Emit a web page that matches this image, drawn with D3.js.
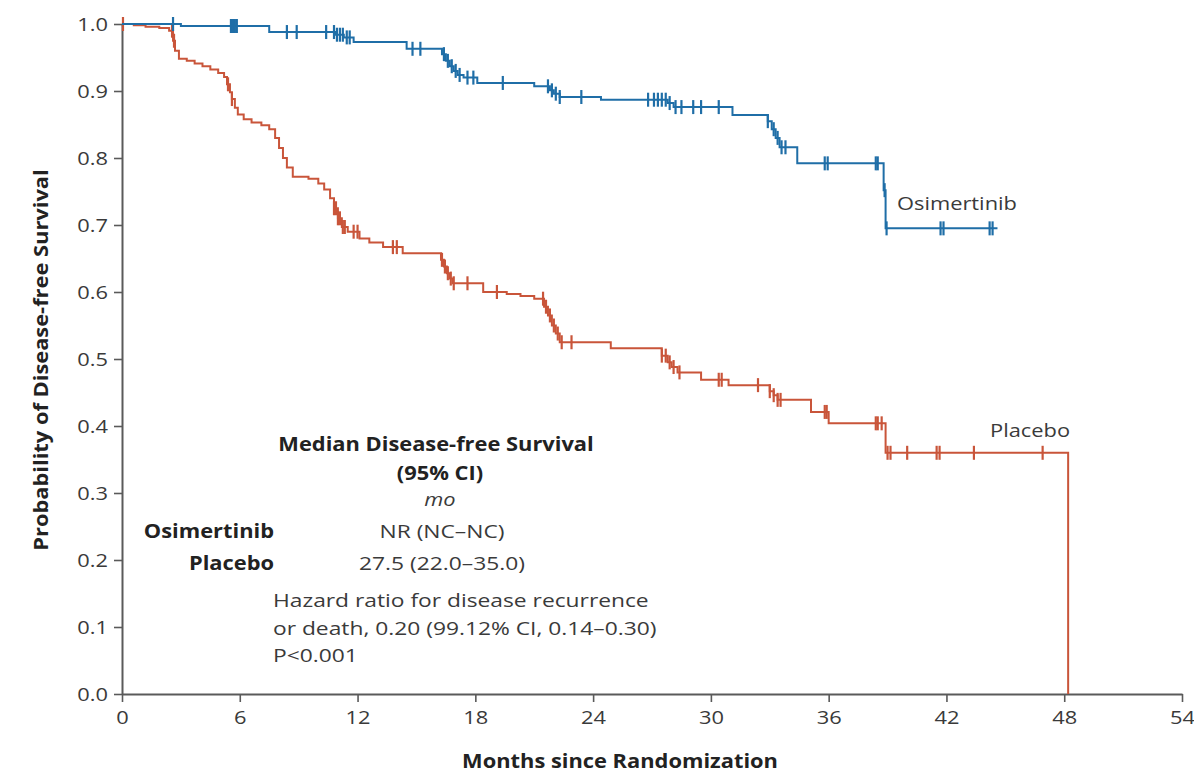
<!DOCTYPE html>
<html>
<head>
<meta charset="utf-8">
<script src="https://cdn.jsdelivr.net/npm/d3@7"></script>
<style>
  html, body { margin: 0; padding: 0; background: #fff; }
  svg { display: block; }
  text { font-family: "Open Sans", Lato, sans-serif; }
</style>
</head>
<body>
<svg id="chart" width="1194" height="773"></svg>
<script>
// ---------------- DATA ----------------
const xTicks = [0, 6, 12, 18, 24, 30, 36, 42, 48, 54];
const yTicks = [0.0, 0.1, 0.2, 0.3, 0.4, 0.5, 0.6, 0.7, 0.8, 0.9, 1.0];

// Osimertinib: event times (months) and survival after each event
const osiTimes = [3.0, 7.5, 10.9, 11.3, 11.8, 14.5, 16.3, 16.5, 16.7, 16.9, 17.1, 17.4, 18.1,
  21.0, 21.8, 22.0, 22.3, 24.4, 27.8, 28.1, 31.1, 32.9, 33.1, 33.3, 33.5, 34.4, 38.8, 38.9];
const osiSurv = [0.997, 0.988, 0.984, 0.980, 0.973, 0.963, 0.955, 0.945, 0.937, 0.930, 0.924, 0.920, 0.912,
  0.907, 0.901, 0.896, 0.891, 0.887, 0.882, 0.876, 0.864, 0.855, 0.843, 0.830, 0.816, 0.792, 0.752, 0.695];
const osiEnd = 44.6;
const osiCensor = [2.6, 5.55, 5.65, 5.75, 5.85, 8.4, 8.9, 10.4, 10.8, 10.95, 11.1, 11.25, 11.45, 11.6,
  14.8, 15.2, 16.4, 16.6, 16.8, 17.0, 17.2, 17.6, 17.9, 19.4, 21.7, 21.9, 22.1, 22.3, 23.4,
  26.8, 27.1, 27.3, 27.5, 27.7, 27.9, 28.2, 28.5, 29.1, 29.5, 30.4, 32.9, 33.2, 33.4, 33.6, 33.8,
  35.8, 35.95, 38.4, 38.5, 38.85, 38.95, 41.7, 41.85, 44.2, 44.35];

// Placebo
const plaTimes = [0.6, 1.2, 1.9, 2.4, 2.6, 2.7, 2.9, 3.3, 3.7, 4.1, 4.5, 4.9, 5.2,
  5.35, 5.5, 5.6, 5.75, 5.9, 6.2, 6.6, 7.1, 7.5, 7.8, 8.0, 8.2, 8.4, 8.7,
  9.5, 10.0, 10.3, 10.6, 10.8, 11.0, 11.2, 11.5, 12.1, 12.6, 13.3, 14.3,
  16.25, 16.4, 16.55, 16.7, 16.85, 18.4, 19.6, 20.3, 21.0, 21.5, 21.7, 21.9, 22.1, 22.3,
  24.9, 27.5, 27.8, 28.0, 28.3, 29.5, 30.9, 33.0, 33.2, 33.4, 35.1, 36.0, 38.9, 48.2];
const plaSurv = [0.998, 0.996, 0.994, 0.990, 0.975, 0.960, 0.948, 0.945, 0.941, 0.937, 0.932, 0.927, 0.921,
  0.910, 0.898, 0.888, 0.875, 0.865, 0.858, 0.853, 0.849, 0.843, 0.830, 0.815, 0.800, 0.786, 0.772,
  0.769, 0.762, 0.753, 0.740, 0.725, 0.710, 0.697, 0.690, 0.680, 0.674, 0.667, 0.658,
  0.648, 0.638, 0.628, 0.620, 0.613, 0.600, 0.597, 0.594, 0.590, 0.578, 0.565, 0.550, 0.538, 0.525,
  0.516, 0.505, 0.495, 0.488, 0.480, 0.469, 0.461, 0.452, 0.446, 0.439, 0.421, 0.404, 0.360, 0.0];
const plaEnd = 48.2;
const plaCensor = [0.05, 2.55, 2.65, 5.4, 5.6, 10.8, 10.9, 11.0, 11.1, 11.25, 11.35, 11.8, 12.0, 13.8, 14.0,
  16.3, 16.45, 16.6, 16.75, 16.9, 17.6, 19.1, 21.45, 21.6, 21.8, 22.0, 22.2, 22.4, 22.9,
  27.5, 27.7, 27.9, 28.1, 28.4, 30.4, 30.55, 32.4, 33.0, 33.2, 33.4, 33.55,
  35.8, 35.9, 38.4, 38.5, 38.7, 39.0, 39.15, 40.0, 41.5, 41.65, 43.4, 46.9];

const seriesNames = ["Osimertinib", "Placebo"];
const medianRows = ["NR (NC\u2013NC)", "27.5 (22.0\u201335.0)"];
const hazardLines = ["Hazard ratio for disease recurrence", "or death, 0.20 (99.12% CI, 0.14\u20130.30)", "P<0.001"];

// ---------------- DRAW ----------------
const svg = d3.select("#chart");
const x = d3.scaleLinear().domain([0, 54]).range([122, 1182]);
const y = d3.scaleLinear().domain([0, 1]).range([694, 24]);
const axisColor = "#5a5a5a";
const textColor = "#3a3a3a";
const blue = "#1f6ea7";
const red = "#c9553a";
const SX = 1.15;      // horizontal stretch of the lettering
const FS = 19;        // base font size

// generic stretched text helper
function label(parent, tx, ty, str, opts = {}) {
  const sx = opts.sx || SX;
  const g = parent.append("g")
    .attr("transform", `translate(${tx},${ty})${opts.rotate ? ` rotate(${opts.rotate})` : ""} scale(${sx},1)`);
  return g.append("text")
    .attr("text-anchor", opts.anchor || "start")
    .attr("fill", opts.fill || textColor)
    .style("font-size", (opts.size || FS) + "px")
    .style("font-weight", opts.bold ? "bold" : "normal")
    .style("font-style", opts.italic ? "italic" : "normal")
    .text(str);
}

// axes
const xAxis = svg.append("g").attr("transform", `translate(0,${y(0)})`)
  .call(d3.axisBottom(x).tickValues(xTicks).tickFormat(d3.format("d")).tickSize(8).tickSizeOuter(0));
const yAxis = svg.append("g").attr("transform", `translate(${x(0)},0)`)
  .call(d3.axisLeft(y).tickValues(yTicks).tickFormat(d3.format(".1f")).tickSize(8).tickSizeOuter(0));
[xAxis, yAxis].forEach(g => {
  g.select(".domain").attr("stroke", axisColor).attr("stroke-width", 2);
  g.selectAll(".tick line").attr("stroke", axisColor).attr("stroke-width", 1.6);
  g.selectAll(".tick text").attr("fill", textColor).style("font-size", FS + "px")
    .style("font-family", "'Open Sans', Lato, sans-serif")
    .attr("transform", `scale(${SX},1)`);
});
xAxis.selectAll(".tick text").attr("y", 12).attr("dy", "0.95em");
yAxis.selectAll(".tick text").attr("x", -14 / SX).attr("dy", "0.36em");

// axis titles
label(svg, 620, 768, "Months since Randomization", { anchor: "middle", bold: true, fill: "#222" });
label(svg, 48, 360, "Probability of Disease-free Survival", { anchor: "middle", bold: true, fill: "#222", rotate: -90 });

function build(times, surv, end) {
  const pts = [[0, 1]];
  times.forEach((t, i) => pts.push([t, surv[i]]));
  if (end > times[times.length - 1]) pts.push([end, surv[surv.length - 1]]);
  return pts;
}
function survAt(times, surv, t) {
  let s = 1;
  for (let i = 0; i < times.length; i++) { if (times[i] <= t) s = surv[i]; }
  return s;
}
const line = d3.line().x(d => x(d[0])).y(d => y(d[1])).curve(d3.curveStepAfter);

const groups = [
  { times: plaTimes, surv: plaSurv, end: plaEnd, cens: plaCensor, color: red },
  { times: osiTimes, surv: osiSurv, end: osiEnd, cens: osiCensor, color: blue }
];
groups.forEach(g => {
  svg.append("path").datum(build(g.times, g.surv, g.end))
    .attr("d", line).attr("fill", "none").attr("stroke", g.color).attr("stroke-width", 2);
  svg.append("g").selectAll("line").data(g.cens).join("line")
    .attr("x1", d => x(d)).attr("x2", d => x(d))
    .attr("y1", d => y(survAt(g.times, g.surv, d)) - 7)
    .attr("y2", d => y(survAt(g.times, g.surv, d)) + 7)
    .attr("stroke", g.color).attr("stroke-width", 2.2);
});

// curve labels
label(svg, 897, 210, seriesNames[0]);
label(svg, 990, 437, seriesNames[1]);

// annotation block
const cx = 436;
label(svg, cx, 451, "Median Disease-free Survival", { anchor: "middle", bold: true, fill: "#222" });
label(svg, cx + 4, 480, "(95% CI)", { anchor: "middle", bold: true, fill: "#222" });
label(svg, cx + 4, 506, "mo", { anchor: "middle", italic: true });
seriesNames.forEach((n, i) => {
  label(svg, 274, 538 + i * 32, n, { anchor: "end", bold: true, fill: "#222" });
  label(svg, cx + 6, 538 + i * 32, medianRows[i], { anchor: "middle", sx: 1.2 });
});
hazardLines.forEach((t, i) => {
  label(svg, 273, 607 + i * 27.5, t, { sx: 1.2 });
});
</script>
</body>
</html>
